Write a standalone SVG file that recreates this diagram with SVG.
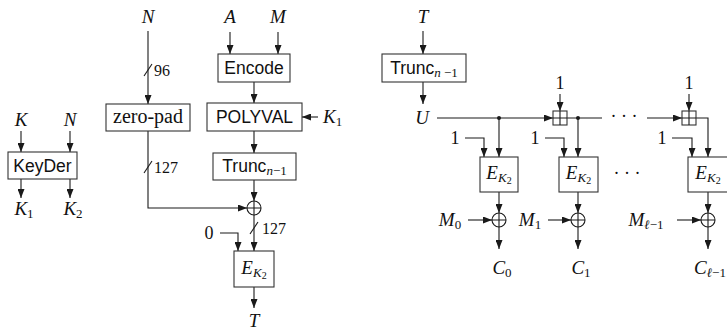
<svg xmlns="http://www.w3.org/2000/svg" width="727" height="333" viewBox="0 0 727 333">
<defs>
<marker id="ah" markerUnits="userSpaceOnUse" markerWidth="9" markerHeight="7" refX="9" refY="3.5" orient="auto">
<path d="M0,0 L9,3.5 L0,7 z" fill="#1a1a1a"/>
</marker>
<style>
.box{fill:#fff;stroke:#333;stroke-width:1.1}
.ln{fill:none;stroke:#1a1a1a;stroke-width:1.1}
.ar{fill:none;stroke:#1a1a1a;stroke-width:1.1;marker-end:url(#ah)}
.m{font-family:"Liberation Serif",serif;font-style:italic;font-size:19px;fill:#111}
.r{font-family:"Liberation Serif",serif;font-size:16px;fill:#111}
.r17{font-family:"Liberation Serif",serif;font-size:18px;fill:#111}
.zp{font-family:"Liberation Serif",serif;font-size:20px;fill:#111}
.s{font-family:"Liberation Sans",Arial,sans-serif;font-size:17.5px;fill:#111}
.sub{font-size:13px}
.subn{font-size:13px;font-style:normal}
.subsub{font-size:10px;font-style:normal}
.tsi{font-family:"Liberation Serif",serif;font-style:italic;font-size:13px}
.tsn{font-family:"Liberation Serif",serif;font-size:13px}
.dot{fill:#1a1a1a}
</style>
</defs>
<rect width="727" height="333" fill="#fff"/>

<g id="connectors">
<path class="ar" d="M21,131 V152"/>
<path class="ar" d="M70,131 V152"/>
<path class="ar" d="M21,179 V198"/>
<path class="ar" d="M70,179 V198"/>
<path class="ar" d="M148,31 V104"/>
<path class="ln" d="M144,76 L152,64"/>
<path class="ar" d="M148,131 V208 H247"/>
<path class="ln" d="M144,173 L152,161"/>
<path class="ar" d="M230,32 V54"/>
<path class="ar" d="M278,32 V54"/>
<path class="ar" d="M254,82 V103"/>
<path class="ar" d="M318,117 H302"/>
<path class="ar" d="M254,131 V153"/>
<path class="ar" d="M254,180 V201"/>
<path class="ar" d="M254,215 V251"/>
<path class="ln" d="M250,234 L258,222"/>
<path class="ar" d="M220,233 H238 V251"/>
<path class="ar" d="M254,287 V308"/>
<path class="ar" d="M423,31 V54"/>
<path class="ar" d="M423,82 V104"/>
<path class="ar" d="M437,118 H553"/>
<path class="ln" d="M567,118 H602"/>
<path class="ar" d="M647,118 H682"/>
<path class="ar" d="M560,94 V111"/>
<path class="ar" d="M689,94 V111"/>
<path class="ar" d="M696,118 H708 V157"/>
<path class="ar" d="M499,118 V157"/>
<path class="ar" d="M578,118 V157"/>
<path class="ar" d="M465,138 H484 V157"/>
<path class="ar" d="M545,138 H564 V157"/>
<path class="ar" d="M672,138 H692 V157"/>
<path class="ar" d="M499,192 V213"/>
<path class="ar" d="M578,192 V213"/>
<path class="ar" d="M708,192 V213"/>
<path class="ar" d="M468,220 H492"/>
<path class="ar" d="M548,220 H571"/>
<path class="ar" d="M677,220 H701"/>
<path class="ar" d="M499,227 V249"/>
<path class="ar" d="M578,227 V249"/>
<path class="ar" d="M708,227 V249"/>
<circle class="dot" cx="499" cy="118" r="2"/>
<circle class="dot" cx="578" cy="118" r="2"/>
</g>

<g id="labels">
<text class="m" x="21" y="126" text-anchor="middle">K</text>
<text class="m" x="70" y="126" text-anchor="middle">N</text>
<text class="m" x="24" y="215" text-anchor="middle">K<tspan class="subn" dy="3">1</tspan></text>
<text class="m" x="73" y="215" text-anchor="middle">K<tspan class="subn" dy="3">2</tspan></text>
<text class="m" x="148" y="23" text-anchor="middle">N</text>
<text class="r" x="154" y="76">96</text>
<text class="r" x="154" y="173">127</text>
<text class="m" x="230" y="23" text-anchor="middle">A</text>
<text class="m" x="278" y="23" text-anchor="middle">M</text>
<text class="m" x="323" y="123">K<tspan class="subn" dy="3">1</tspan></text>
<text class="r" x="262" y="234">127</text>
<text class="r17" x="209" y="239" text-anchor="middle">0</text>
<text class="m" x="254" y="327" text-anchor="middle">T</text>
<text class="m" x="423" y="23" text-anchor="middle">T</text>
<text class="m" x="422" y="124" text-anchor="middle">U</text>
<text class="r17" x="560" y="89" text-anchor="middle">1</text>
<text class="r17" x="689" y="89" text-anchor="middle">1</text>
<text class="r17" x="455" y="144" text-anchor="middle">1</text>
<text class="r17" x="535" y="144" text-anchor="middle">1</text>
<text class="r17" x="662" y="144" text-anchor="middle">1</text>
<text class="r17" x="624" y="122" text-anchor="middle">· · ·</text>
<text class="r17" x="627" y="179" text-anchor="middle">· · ·</text>
<text class="m" x="450" y="226" text-anchor="middle">M<tspan class="subn" dy="3">0</tspan></text>
<text class="m" x="530" y="226" text-anchor="middle">M<tspan class="subn" dy="3">1</tspan></text>
<text class="m" x="646" y="226" text-anchor="middle">M<tspan class="sub" dy="3">ℓ</tspan><tspan class="subn">−1</tspan></text>
<text class="m" x="502" y="274" text-anchor="middle">C<tspan class="subn" dy="3">0</tspan></text>
<text class="m" x="581" y="274" text-anchor="middle">C<tspan class="subn" dy="3">1</tspan></text>
<text class="m" x="694" y="274">C<tspan class="sub" dy="3">ℓ</tspan><tspan class="subn">−1</tspan></text>
</g>

<g id="keyder">
<rect class="box" x="8" y="152" width="69" height="27"/>
<text class="s" x="42.5" y="172" text-anchor="middle">KeyDer</text>
</g>
<g id="zeropad">
<rect class="box" x="106" y="104" width="84" height="27"/>
<text class="zp" x="148" y="123" text-anchor="middle">zero-pad</text>
</g>
<g id="encode">
<rect class="box" x="218" y="54" width="72" height="28"/>
<text class="s" x="254" y="74" text-anchor="middle">Encode</text>
</g>
<g id="polyval">
<rect class="box" x="207" y="103" width="95" height="28"/>
<text class="s" x="254.5" y="123" text-anchor="middle">POLYVAL</text>
</g>
<g id="trunc1">
<rect class="box" x="213" y="153" width="83" height="27"/>
<text class="s" x="254.5" y="172" text-anchor="middle">Trunc<tspan class="tsi" dy="3">n</tspan><tspan class="tsn">−1</tspan></text>
</g>
<g id="xor0">
<circle class="ln" cx="254" cy="208" r="7" fill="#fff"/>
<path class="ln" d="M247,208 H261 M254,201 V215"/>
</g>
<g id="enc0">
<rect class="box" x="234" y="251" width="40" height="36"/>
<text class="m" x="254" y="274" text-anchor="middle">E<tspan class="sub" dy="3">K</tspan><tspan class="subsub" dy="2">2</tspan></text>
</g>
<g id="trunc2">
<rect class="box" x="382" y="54" width="84" height="28"/>
<text class="s" x="424" y="74" text-anchor="middle">Trunc<tspan class="tsi" dy="3">n</tspan><tspan class="tsn"> −1</tspan></text>
</g>
<g id="add1">
<rect class="box" x="553" y="111" width="14" height="14"/>
<path class="ln" d="M560,111 V125 M553,118 H567"/>
</g>
<g id="add2">
<rect class="box" x="682" y="111" width="14" height="14"/>
<path class="ln" d="M689,111 V125 M682,118 H696"/>
</g>
<g id="e1">
<rect class="box" x="480" y="157" width="38" height="35"/>
<text class="m" x="499" y="179" text-anchor="middle">E<tspan class="sub" dy="3">K</tspan><tspan class="subsub" dy="2">2</tspan></text>
</g>
<g id="e2">
<rect class="box" x="559" y="157" width="39" height="35"/>
<text class="m" x="578.5" y="179" text-anchor="middle">E<tspan class="sub" dy="3">K</tspan><tspan class="subsub" dy="2">2</tspan></text>
</g>
<g id="e3">
<rect class="box" x="688" y="157" width="40" height="35"/>
<text class="m" x="708" y="179" text-anchor="middle">E<tspan class="sub" dy="3">K</tspan><tspan class="subsub" dy="2">2</tspan></text>
</g>
<g id="xor1">
<circle class="ln" cx="499" cy="220" r="7" fill="#fff"/>
<path class="ln" d="M492,220 H506 M499,213 V227"/>
</g>
<g id="xor2">
<circle class="ln" cx="578" cy="220" r="7" fill="#fff"/>
<path class="ln" d="M571,220 H585 M578,213 V227"/>
</g>
<g id="xor3">
<circle class="ln" cx="708" cy="220" r="7" fill="#fff"/>
<path class="ln" d="M701,220 H715 M708,213 V227"/>
</g>
</svg>
